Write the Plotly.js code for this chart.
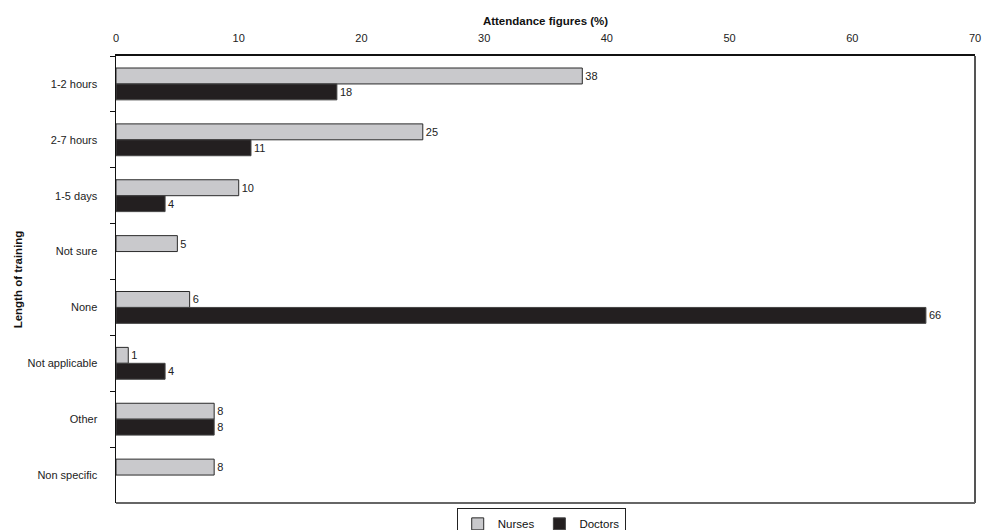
<!DOCTYPE html>
<html>
<head>
<meta charset="utf-8">
<script src="https://cdn.plot.ly/plotly-3.0.1.min.js"></script>
<style>html,body{margin:0;padding:0;background:#fff;}#chart{width:983px;height:530px;}</style>
</head>
<body>
<div id="chart"></div>
<script>
const categories = ["1-2 hours", "2-7 hours", "1-5 days", "Not sure", "None", "Not applicable", "Other", "Non specific"];
const nurses = [38, 25, 10, 5, 6, 1, 8, 8];
const doctors = [18, 11, 4, null, 66, 4, 8, null];
const xTicks = [0, 10, 20, 30, 40, 50, 60, 70];

const fam = "Liberation Sans, Arial, sans-serif";
const font = {family: fam, size: 11, color: "#222"};

const traces = [
  {type: "bar", orientation: "h", name: "Nurses", y: categories, x: nurses,
   marker: {color: "#c9c9cc", line: {color: "#2a2a2a", width: 1}},
   text: nurses.map(v => v == null ? "" : String(v)), textposition: "outside",
   textfont: font, cliponaxis: false, hoverinfo: "skip"},
  {type: "bar", orientation: "h", name: "Doctors", y: categories, x: doctors,
   marker: {color: "#231f20", line: {color: "#444", width: 1}},
   text: doctors.map(v => v == null ? "" : String(v)), textposition: "outside",
   textfont: font, cliponaxis: false, hoverinfo: "skip"}
];

const layout = {
  width: 983, height: 530,
  margin: {l: 116, r: 8, t: 56, b: 27, autoexpand: false},
  paper_bgcolor: "#fff", plot_bgcolor: "#fff",
  font: font,
  barmode: "group", bargap: 0.43, bargroupgap: 0,
  showlegend: true,
  legend: {orientation: "h", x: 0.495, xanchor: "center", y: -0.012, yanchor: "top",
           bordercolor: "#222", borderwidth: 1, bgcolor: "rgba(255,255,255,0)",
           font: {family: fam, size: 11.5, color: "#111"},
           itemwidth: 30, tracegroupgap: 0, traceorder: "normal"},
  xaxis: {side: "top", range: [0, 70], tickvals: xTicks, ticktext: xTicks.map(String),
          showgrid: false, zeroline: false, showline: true, linecolor: "#111", linewidth: 2,
          ticks: "", tickfont: font, ticklabelstandoff: 8,
          title: {text: "<b>Attendance figures (%)</b>", font: {family: fam, size: 11.5, color: "#111"}, standoff: 4}},
  yaxis: {type: "category", autorange: "reversed", showgrid: false, zeroline: false,
          showline: true, linecolor: "#111", linewidth: 1.5,
          ticks: "outside", ticklen: 5, tickcolor: "#111", tickson: "boundaries",
          tickfont: font, ticklabelstandoff: 15,
          title: {text: "<b>Length of training</b>", font: {family: fam, size: 11.5, color: "#111"}, standoff: 2}},
  shapes: [
    {type: "line", xref: "paper", yref: "paper", x0: 1, x1: 1, y0: 0, y1: 1, line: {color: "#555", width: 2}},
    {type: "line", xref: "paper", yref: "paper", x0: 0, x1: 1, y0: 0, y1: 0, line: {color: "#666", width: 2}}
  ]
};

Plotly.newPlot("chart", traces, layout, {displayModeBar: false, staticPlot: true});
</script>
</body>
</html>
